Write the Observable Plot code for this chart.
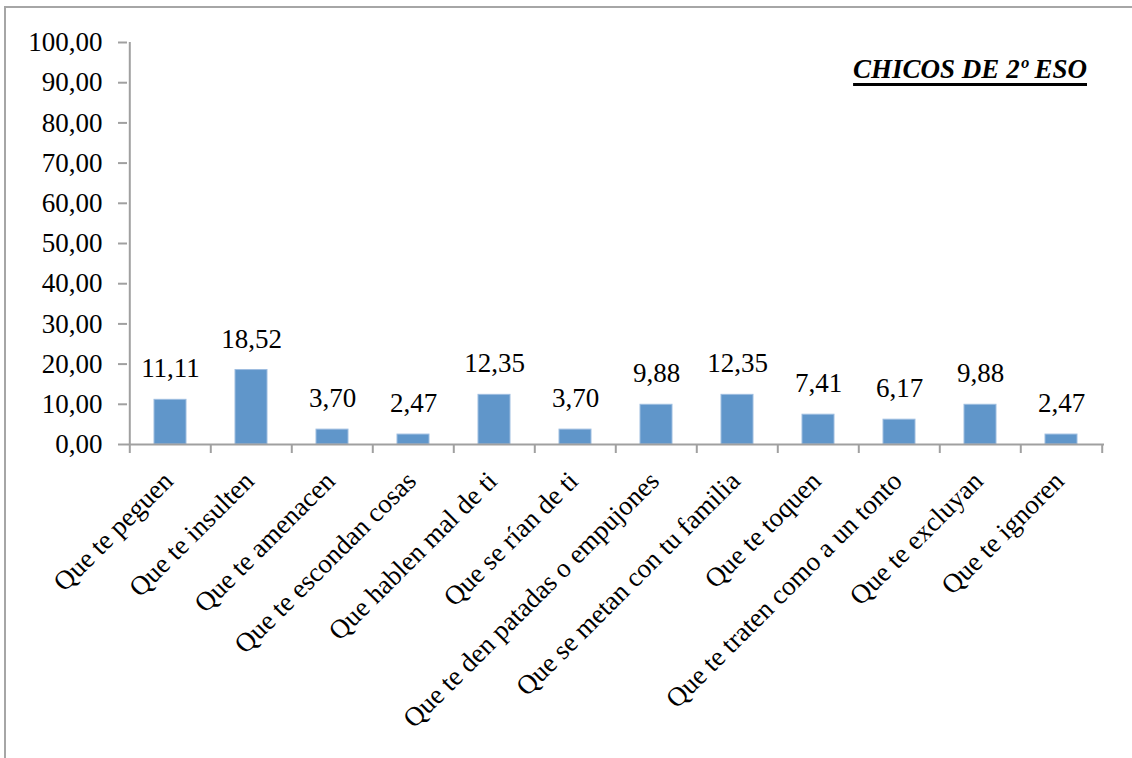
<!DOCTYPE html>
<html>
<head>
<meta charset="utf-8">
<script src="https://cdn.jsdelivr.net/npm/d3@7"></script>
<script src="https://cdn.jsdelivr.net/npm/@observablehq/plot@0.6"></script>
<style>
  html, body { margin: 0; padding: 0; background: #fff; }
  #wrap { position: relative; width: 1132px; height: 758px; overflow: hidden; }
  #border { position: absolute; left: 4px; top: 6px; width: 1200px; height: 1000px;
            border-left: 2px solid #a6a6a6; border-top: 2px solid #a6a6a6; }
  #title { position: absolute; right: 45px; top: 54px; font-family: "Liberation Serif", serif;
           font-weight: bold; font-style: italic; font-size: 27px; text-decoration: underline;
           text-decoration-thickness: 3px; text-underline-offset: 5px; color: #000; }
  svg { position: absolute; left: 0; top: 0; }
</style>
</head>
<body>
<div id="wrap">
  <div id="border"></div>
  <div id="title">CHICOS DE 2º ESO</div>
</div>
<script>
const categories = [
  "Que te peguen", "Que te insulten", "Que te amenacen", "Que te escondan cosas",
  "Que hablen mal de ti", "Que se rían de ti", "Que te den patadas o empujones",
  "Que se metan con tu familia", "Que te toquen", "Que te traten como a un tonto",
  "Que te excluyan", "Que te ignoren"
];
const values = [11.11, 18.52, 3.70, 2.47, 12.35, 3.70, 9.88, 12.35, 7.41, 6.17, 9.88, 2.47];
const yTicks = [0, 10, 20, 30, 40, 50, 60, 70, 80, 90, 100];

const data = categories.map((c, i) => ({category: c, value: values[i]}));
const fmt = d => d.toFixed(2).replace(".", ",");

const W = 1132, H = 758, mL = 127, mR = 28, mT = 42, mB = 314;
const step = (W - mL - mR) / categories.length;
const axisColor = "#a0a0a0";
const font = "Liberation Serif, serif";
const fs = 27;

const chart = Plot.plot({
  width: W, height: H,
  marginLeft: mL, marginRight: mR, marginTop: mT, marginBottom: mB,
  style: {fontFamily: font, fontSize: fs + "px", background: "transparent", color: "#000"},
  x: {domain: categories, paddingInner: 0.6, paddingOuter: 0.3},
  y: {domain: [0, 100]},
  marks: [
    Plot.barY(data, {x: "category", y: "value", fill: "#6096ca", stroke: "#9dbde0", strokeWidth: 1}),
    Plot.ruleX([categories[0]], {dx: -step / 2, stroke: axisColor, strokeWidth: 2}),
    Plot.ruleY([0], {stroke: axisColor, strokeWidth: 2}),
    Plot.ruleX(categories, {dx: -step / 2, insetTop: H - mT - mB, insetBottom: -9, stroke: axisColor, strokeWidth: 2}),
    Plot.ruleX([categories[categories.length - 1]], {dx: step / 2, insetTop: H - mT - mB, insetBottom: -9, stroke: axisColor, strokeWidth: 2}),
    Plot.axisY({ticks: yTicks, tickFormat: fmt, tickSize: 9, tickPadding: 16, stroke: axisColor, strokeWidth: 2, fill: "#000", fontSize: fs, label: null}),
    Plot.axisX({tickSize: 0, tickRotate: -45, tickPadding: 32, dx: -2, fill: "#000", fontSize: fs, label: null}),
    Plot.text(data, {x: "category", y: "value", text: d => fmt(d.value), dy: -31, lineAnchor: "middle", fill: "#000", fontSize: fs})
  ]
});
document.getElementById("wrap").appendChild(chart);
</script>
</body>
</html>
